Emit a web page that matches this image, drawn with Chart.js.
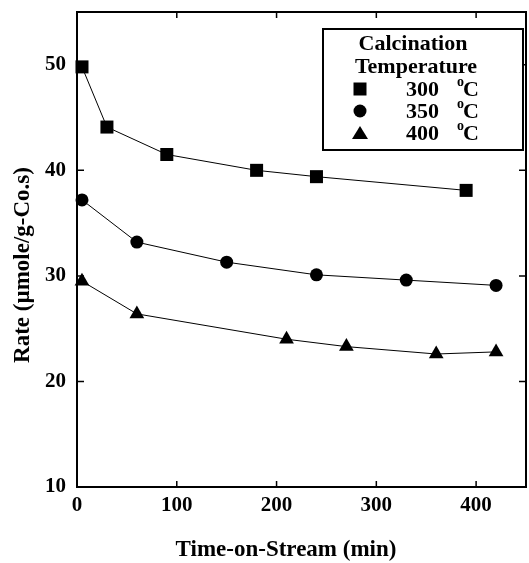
<!DOCTYPE html>
<html>
<head>
<meta charset="utf-8">
<script src="https://cdn.jsdelivr.net/npm/chart.js@4/dist/chart.umd.min.js"></script>
<style>
  html, body { margin: 0; padding: 0; background: #fff; }
  #wrap { width: 529px; height: 563px; }
</style>
</head>
<body>
<div id="wrap"><canvas id="rateChart" width="529" height="563"></canvas></div>
<script>
// data
const time300 = [5, 30, 90, 180, 240, 390];
const rate300 = [49.8, 44.1, 41.5, 40.0, 39.4, 38.1];
const time350 = [5, 60, 150, 240, 330, 420];
const rate350 = [37.2, 33.2, 31.3, 30.1, 29.6, 29.1];
const time400 = [5, 60, 210, 270, 360, 420];
const rate400 = [29.5, 26.4, 24.0, 23.3, 22.6, 22.8];
const legendLabels = ['300', '350', '400'];
const xTicks = [0, 100, 200, 300, 400];
const yTicks = [10, 20, 30, 40, 50];
const xTitle = 'Time-on-Stream (min)';
const yTitle = 'Rate (µmole/g-Co.s)';

const serif = '"Liberation Serif", "Times New Roman", serif';

function pts(xs, ys) {
  return xs.map((x, i) => ({ x: x, y: ys[i] }));
}

function drawMarker(ctx, style, x, y) {
  ctx.beginPath();
  if (style === 'rect') {
    ctx.rect(x - 6.5, y - 6.5, 13, 13);
  } else if (style === 'circle') {
    ctx.arc(x, y, 6.5, 0, Math.PI * 2);
  } else {
    ctx.moveTo(x, y - 7);
    ctx.lineTo(x + 8, y + 6);
    ctx.lineTo(x - 8, y + 6);
    ctx.closePath();
  }
  ctx.fill();
}

// frame, inward ticks, axis titles and the boxed legend
const framePlugin = {
  id: 'frame',
  afterDraw(chart) {
    const ctx = chart.ctx;
    const a = chart.chartArea;
    const xs = chart.scales.x, ys = chart.scales.y;
    ctx.save();
    ctx.strokeStyle = '#000';
    ctx.lineWidth = 2;
    ctx.strokeRect(a.left, a.top, a.right - a.left, a.bottom - a.top);
    ctx.lineWidth = 1.5;
    ctx.beginPath();
    xTicks.forEach(v => {
      if (v === 0) return;
      const px = xs.getPixelForValue(v);
      ctx.moveTo(px, a.bottom); ctx.lineTo(px, a.bottom - 6);
      ctx.moveTo(px, a.top); ctx.lineTo(px, a.top + 6);
    });
    yTicks.forEach(v => {
      if (v === 10) return;
      const py = ys.getPixelForValue(v);
      ctx.moveTo(a.left, py); ctx.lineTo(a.left + 7, py);
      ctx.moveTo(a.right, py); ctx.lineTo(a.right - 7, py);
    });
    ctx.stroke();

    // axis titles
    ctx.fillStyle = '#000';
    ctx.font = 'bold 23px ' + serif;
    ctx.textAlign = 'center';
    ctx.textBaseline = 'alphabetic';
    ctx.fillText(xTitle, 286, 556);
    ctx.save();
    ctx.translate(29, 265);
    ctx.rotate(-Math.PI / 2);
    ctx.fillText(yTitle, 0, 0);
    ctx.restore();

    // legend box
    const bx = 323, by = 29, bw = 200, bh = 121;
    ctx.fillStyle = '#fff';
    ctx.fillRect(bx, by, bw, bh);
    ctx.lineWidth = 2;
    ctx.strokeRect(bx, by, bw, bh);
    ctx.fillStyle = '#000';
    ctx.font = 'bold 22px ' + serif;
    ctx.textAlign = 'center';
    ctx.fillText('Calcination', 413, 50);
    ctx.fillText('Temperature', 416, 73);
    const styles = ['rect', 'circle', 'triangle'];
    legendLabels.forEach((lab, i) => {
      const base = 96 + i * 22;
      drawMarker(ctx, styles[i], 360, base - 7);
      ctx.textAlign = 'left';
      ctx.font = 'bold 22px ' + serif;
      ctx.fillText(lab, 406, base);
      ctx.font = 'bold 14px ' + serif;
      ctx.fillText('o', 457, base - 10);
      ctx.font = 'bold 22px ' + serif;
      ctx.fillText('C', 463, base);
    });
    ctx.restore();
  }
};

const common = {
  borderColor: '#000',
  backgroundColor: '#000',
  borderWidth: 1,
  showLine: true,
  tension: 0,
  pointBorderWidth: 0,
  clip: false
};

const tickFont = { family: serif, size: 21, weight: 'bold' };

new Chart(document.getElementById('rateChart').getContext('2d'), {
  type: 'scatter',
  data: {
    datasets: [
      Object.assign({ label: '300 °C', data: pts(time300, rate300), pointStyle: 'rect', pointRadius: 9.2 }, common),
      Object.assign({ label: '350 °C', data: pts(time350, rate350), pointStyle: 'circle', pointRadius: 6.5 }, common),
      Object.assign({ label: '400 °C', data: pts(time400, rate400), pointStyle: 'triangle', pointRadius: 8.5 }, common)
    ]
  },
  options: {
    responsive: false,
    animation: false,
    layout: { autoPadding: false, padding: { left: 0, top: 12, right: 3, bottom: 0 } },
    plugins: {
      legend: { display: false },
      tooltip: { enabled: false }
    },
    scales: {
      x: {
        type: 'linear',
        min: 0, max: 450,
        grid: { display: false, drawTicks: false },
        border: { display: false },
        ticks: {
          padding: 6,
          autoSkip: false,
          color: '#000',
          font: tickFont,
          maxRotation: 0
        },
        afterBuildTicks: s => { s.ticks = xTicks.map(v => ({ value: v })); },
        afterFit: s => {
          s.height = 76;
          s.paddingLeft = 0; s.paddingRight = 0;
        }
      },
      y: {
        type: 'linear',
        min: 10, max: 55,
        grid: { display: false, drawTicks: false },
        border: { display: false },
        ticks: {
          padding: 11,
          autoSkip: false,
          color: '#000',
          font: tickFont
        },
        afterBuildTicks: s => { s.ticks = yTicks.map(v => ({ value: v })); },
        afterFit: s => {
          s.width = 77;
          s.paddingTop = 0; s.paddingBottom = 0;
        }
      }
    }
  },
  plugins: [framePlugin]
});
</script>
</body>
</html>
